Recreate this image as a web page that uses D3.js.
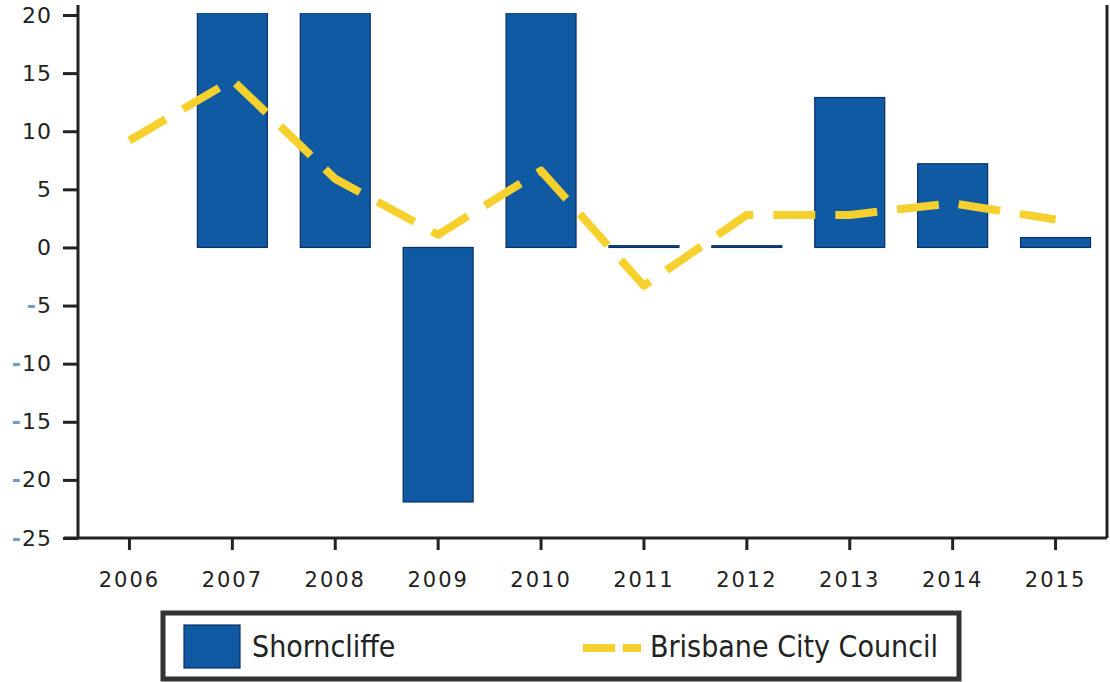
<!DOCTYPE html>
<html lang="en">
<head>
    <meta charset="utf-8">
    <title>Shorncliffe vs Brisbane City Council</title>
    <script type="text/javascript" src="https://cdn.jsdelivr.net/npm/d3@7"></script>
    <style>
        body { margin: 0; background: #fff; }
        .axis text { font-family: "DejaVu Sans", sans-serif; font-size: 21px; fill: #222; letter-spacing: 2px; }
        .axis.y text { font-size: 22px; letter-spacing: 1px; }
        .axis path, .axis line { stroke: #222; stroke-width: 3; }
    </style>
</head>
<body>
<div id="chart"></div>
<script type="text/javascript">
    // values
    var years = ["2006", "2007", "2008", "2009", "2010", "2011", "2012", "2013", "2014", "2015"];
    var shorncliffe = [null, 20.2, 20.2, -21.9, 20.2, 0.15, 0.15, 12.9, 7.2, 0.85];
    var brisbane = [9.2, 14.4, 5.9, 1.1, 6.6, -3.3, 2.8, 2.8, 3.8, 2.4];
    var yTicks = [-25, -20, -15, -10, -5, 0, 5, 10, 15, 20];

    var w = 1110;
    var h = 682;
    var plotLeft = 78, plotTop = 15, plotRight = 1107, plotBottom = 538;

    var blue = "#0f5aa3";
    var yellow = "#f6d02c";

    var svg = d3.select("#chart")
        .append("svg")
        .attr("width", w)
        .attr("height", h);

    var xScale = d3.scaleBand()
        .domain(years)
        .range([plotLeft, plotRight])
        .paddingInner(0.32)
        .paddingOuter(0.16);

    var yScale = d3.scaleLinear()
        .domain([-25, 20])
        .range([plotBottom, plotTop]);

    svg.append("clipPath")
        .attr("id", "plotClip")
        .append("rect")
        .attr("x", plotLeft)
        .attr("y", plotTop - 2)
        .attr("width", plotRight - plotLeft)
        .attr("height", plotBottom - plotTop + 2);

    // bars
    var barData = years.map(function (y, i) { return { year: y, v: shorncliffe[i] }; })
        .filter(function (d) { return d.v !== null; });

    svg.append("g")
        .attr("clip-path", "url(#plotClip)")
        .selectAll("rect")
        .data(barData)
        .enter()
        .append("rect")
        .attr("x", function (d) { return xScale(d.year); })
        .attr("y", function (d) { return yScale(Math.max(0, d.v)); })
        .attr("width", xScale.bandwidth())
        .attr("height", function (d) { return Math.abs(yScale(d.v) - yScale(0)); })
        .attr("fill", blue)
        .attr("stroke", "#0b2f63")
        .attr("stroke-width", 1.2);

    // dashed line for the council
    var line = d3.line()
        .x(function (d, i) { return xScale(years[i]) + xScale.bandwidth() / 2; })
        .y(function (d) { return yScale(d); });

    svg.append("path")
        .datum(brisbane)
        .attr("d", line)
        .attr("fill", "none")
        .attr("stroke", yellow)
        .attr("stroke-width", 8)
        .attr("stroke-dasharray", "42,20")
        .attr("stroke-linejoin", "round");

    // axes
    var yAxis = d3.axisLeft(yScale)
        .tickValues(yTicks)
        .tickSize(15)
        .tickSizeOuter(0)
        .tickPadding(11);

    var yG = svg.append("g")
        .attr("class", "axis y")
        .attr("transform", "translate(" + plotLeft + ",0)")
        .call(yAxis);
    yG.select(".domain").attr("d", "M0," + (plotTop - 10) + "V" + plotBottom);

    // the scan shows a small pale blue minus before negative labels
    yG.selectAll(".tick text").each(function (d) {
        var t = d3.select(this).text("");
        if (d < 0) {
            t.append("tspan")
                .style("fill", "#6f9bcb")
                .style("font-weight", "bold")
                .text("-");
        }
        t.append("tspan").text(Math.abs(d));
    });

    var xAxis = d3.axisBottom(xScale)
        .tickSize(12)
        .tickSizeOuter(0)
        .tickPadding(22);

    svg.append("g")
        .attr("class", "axis")
        .attr("transform", "translate(0," + plotBottom + ")")
        .call(xAxis)
        .call(function (g) { g.select(".domain").attr("d", "M" + (plotLeft - 14) + ",0H" + plotRight); });

    // right frame line
    svg.append("line")
        .attr("x1", plotRight).attr("x2", plotRight)
        .attr("y1", 5).attr("y2", plotBottom)
        .attr("stroke", "#222")
        .attr("stroke-width", 3);

    // legend
    var legend = svg.append("g");

    legend.append("rect")
        .attr("x", 163).attr("y", 613)
        .attr("width", 796).attr("height", 66)
        .attr("fill", "#fff")
        .attr("stroke", "#333")
        .attr("stroke-width", 5);

    legend.append("rect")
        .attr("x", 184).attr("y", 625)
        .attr("width", 56).attr("height", 43)
        .attr("fill", blue)
        .attr("stroke", "#0b2f63")
        .attr("stroke-width", 1.2);

    legend.append("text")
        .attr("x", 252).attr("y", 657)
        .style("font-family", "'DejaVu Sans Condensed', 'DejaVu Sans', sans-serif")
        .style("font-size", "30px")
        .style("fill", "#222")
        .text("Shorncliffe");

    legend.append("line")
        .attr("x1", 583).attr("x2", 641)
        .attr("y1", 648).attr("y2", 648)
        .attr("stroke", yellow)
        .attr("stroke-width", 8)
        .attr("stroke-dasharray", "32,8");

    legend.append("text")
        .attr("x", 650).attr("y", 657)
        .style("font-family", "'DejaVu Sans Condensed', 'DejaVu Sans', sans-serif")
        .style("font-size", "30px")
        .style("fill", "#222")
        .text("Brisbane City Council");
</script>
</body>
</html>
